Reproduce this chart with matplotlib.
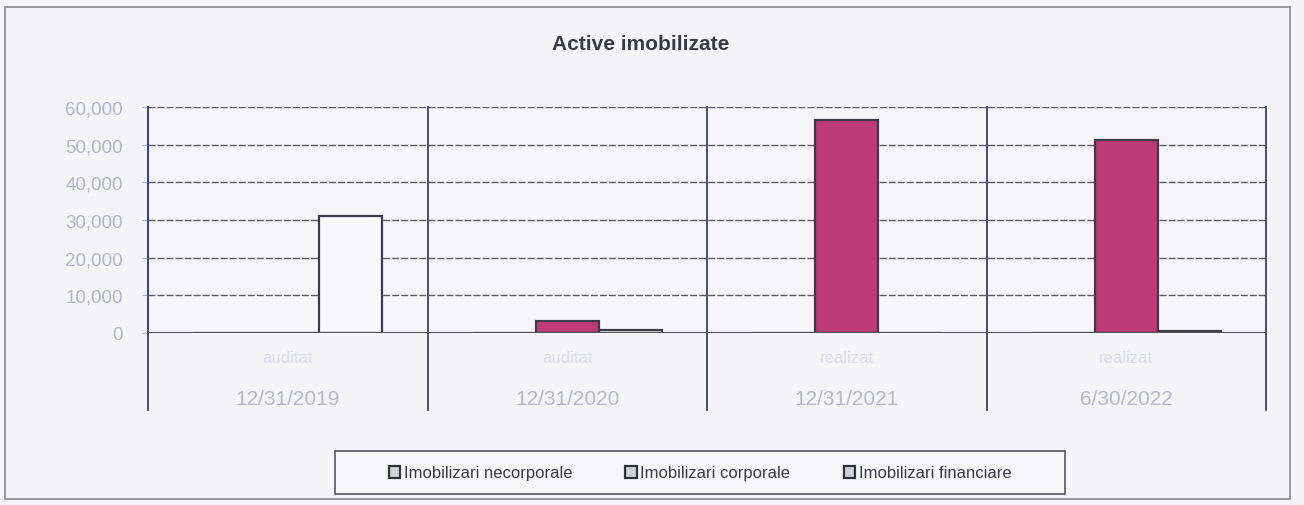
import matplotlib
matplotlib.use('Agg')
import matplotlib.pyplot as plt
import numpy as np
from matplotlib.patches import Rectangle
from matplotlib.ticker import FuncFormatter

# data
periods = ['auditat', 'auditat', 'realizat', 'realizat']
dates = ['12/31/2019', '12/31/2020', '12/31/2021', '6/30/2022']
series = ['Imobilizari necorporale', 'Imobilizari corporale', 'Imobilizari financiare']
necorporale = [0, 0, 0, 0]
corporale = [0, 3200, 56500, 51200]
financiare = [31000, 800, 0, 500]

plt.rcParams['font.family'] = ['Liberation Sans', 'DejaVu Sans']

bg = '#f4f4f9'
fig = plt.figure(figsize=(13.04, 5.06), dpi=100, facecolor=bg)
ax = fig.add_axes([148/1304, 1-334/506, (1266-148)/1304, (334-108)/506])
ax.set_facecolor('#f6f6fa')

x = np.arange(len(dates))
w = 0.225
colors = ['#f8f8fb', '#bd3a74', '#f8f8fb']
vals = [necorporale, corporale, financiare]
for i, (lab, v, c) in enumerate(zip(series, vals, colors)):
    ax.bar(x + (i-1)*w, v, w, color=c, edgecolor='#3c3c48', linewidth=1.6,
           label=lab, zorder=3)

ax.set_ylim(0, 60000)
ax.set_xlim(-0.5, 3.5)
ax.set_yticks(np.arange(0, 60001, 10000))
ax.yaxis.set_major_formatter(FuncFormatter(lambda v, p: f'{int(v):,}'))
ax.tick_params(axis='y', colors='#b0b0c4', labelsize=13.5, length=4, pad=14,
               labelcolor='#b4b4c8')
ax.set_xticks([])
ax.yaxis.grid(True, color='#5a5a64', linewidth=1.0, linestyle=(0, (5, 1.5)), zorder=0)
for s in ['top', 'right', 'bottom']:
    ax.spines[s].set_visible(False)
ax.spines['left'].set_color('#404a7a')
ax.spines['left'].set_linewidth(1.5)
ax.axhline(0, color='#505058', linewidth=1.5, zorder=4)

# category separators extending below the plot
for xv in np.arange(-0.5, 4.0, 1.0):
    ax.axvline(xv, ymin=-0.34, ymax=1.0, color='#3a4070', linewidth=1.3,
               clip_on=False, zorder=2)
for xi, (p, d) in enumerate(zip(periods, dates)):
    ax.text(xi, -0.11, p, transform=ax.get_xaxis_transform(), ha='center',
            va='center', fontsize=12, color='#dcdcea')
    ax.text(xi, -0.29, d, transform=ax.get_xaxis_transform(), ha='center',
            va='center', fontsize=15, color='#b8b8ca')

fig.text(641/1304, 1-45/506, 'Active imobilizate', ha='center', va='center',
         fontsize=15, color='#3a3a44', fontweight='bold')

leg = fig.legend(loc='center', bbox_to_anchor=(700/1304, 1-474/506), ncol=3,
                 fontsize=12, frameon=False, handlelength=0.7, handleheight=0.7,
                 handletextpad=0.2, columnspacing=3.2, borderaxespad=0)
for h in leg.legend_handles:
    h.set_facecolor('#d0d0d8')
    h.set_edgecolor('#303038')
for t in leg.get_texts():
    t.set_color('#3a3a44')

# legend box and outer chart border
fig.patches.append(Rectangle((335/1304, 1-495/506), 730/1304, 43/506,
                             transform=fig.transFigure, facecolor='#f8f8fb',
                             edgecolor='#555560', linewidth=1.2, zorder=0))
fig.patches.append(Rectangle((5/1304, 1-500/506), 1285/1304, 492/506,
                             transform=fig.transFigure, fill=False,
                             edgecolor='#888890', linewidth=1.2))

fig.savefig('out.png', dpi=100, facecolor=bg)
